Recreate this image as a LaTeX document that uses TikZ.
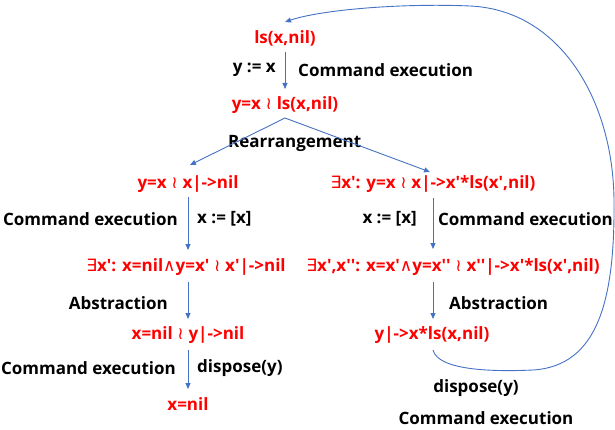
\documentclass[tikz,border=0pt]{standalone}
\usepackage{fontspec}
\setmainfont{Open Sans}
\newfontfamily\symf{DejaVu Sans}
\usetikzlibrary{arrows.meta}
\definecolor{flowblue}{HTML}{4472C4}
\newcommand{\wrs}{{\symf\mdseries\;≀\;}}
\newcommand{\exs}{{\symf\mdseries ∃}}
\newcommand{\wedg}{{\symf\mdseries ∧}}
\newcommand{\q}{\textquotesingle}
\tikzset{
  state/.style={font=\fontsize{17}{20}\selectfont\bfseries, text=red, inner sep=0pt},
  lbl/.style={font=\fontsize{17}{20}\selectfont\bfseries, text=black, inner sep=0pt},
  flow/.style={draw=flowblue, line width=0.9pt, -{Triangle[length=6pt,width=5pt]}},
}
\begin{document}
\begin{tikzpicture}[x=1pt,y=-1pt]
\useasboundingbox (0,0) rectangle (615,430);

% states
\node[state] (n1) at (285,38) {ls(x,nil)};
\node[state] (n2) at (285,105) {y=x\wrs ls(x,nil)};
\node[state] (n3) at (188,184) {y=x\wrs x|->nil};
\node[state] (n4) at (186,267) {\exs x\q: x=nil\wedg y=x\q\wrs x\q|->nil};
\node[state] (n5) at (188,335) {x=nil\wrs y|->nil};
\node[state] (n6) at (188,404) {x=nil};
\node[state] (n7) at (433,184) {\exs x\q: y=x\wrs x|->x\q*ls(x\q,nil)};
\node[state] (n8) at (453,267) {\exs x\q,x\q\q: x=x\q\wedg y=x\q\q\wrs x\q\q|->x\q*ls(x\q,nil)};
\node[state] (n9) at (432,335) {y|->x*ls(x,nil)};

% labels
\node[lbl, anchor=east] (l1) at (276,70) {y := x};
\node[lbl, anchor=west] (l2) at (298,70) {Command execution};
\node[lbl, anchor=west] (l3) at (228,143) {Rearrangement};
\node[lbl, anchor=east] (l4) at (178,219) {Command execution};
\node[lbl, anchor=west] (l5) at (197,219) {x := [x]};
\node[lbl, anchor=east] (l6) at (168,303) {Abstraction};
\node[lbl, anchor=east] (l7) at (176,368) {Command execution};
\node[lbl, anchor=west] (l8) at (197,368) {dispose(y)};
\node[lbl, anchor=east] (l9) at (417,219) {x := [x]};
\node[lbl, anchor=east] (l10) at (613,219) {Command execution};
\node[lbl, anchor=west] (l11) at (449,303) {Abstraction};
\node[lbl] (l12) at (476,388) {dispose(y)};
\node[lbl] (l13) at (486,418) {Command execution};

% connectors
\coordinate (r0) at (285,118);
\coordinate (c0) at (433,350);
\draw[flow] (n1.south |- 0,52) -- (n2.north |- 0,89);
\draw[flow] (r0) -- (190,165);
\draw[flow] (r0) -- (430,172);
\draw[flow] (n3.south |- 0,197) -- (n3.south |- 0,250);
\draw[flow] (n3.south |- 0,282) -- (n3.south |- 0,319);
\draw[flow] (n3.south |- 0,350) -- (n3.south |- 0,389);
\draw[flow] (n7.south |- 0,198) -- (n7.south |- 0,249);
\draw[flow] (n7.south |- 0,282) -- (n7.south |- 0,319);
\draw[flow] (c0)
  .. controls (438,370) and (490,372) .. (533,370)
  .. controls (598,366) and (615,300) .. (614,200)
  .. controls (613,100) and (560,10) .. (470,6)
  .. controls (400,3) and (320,10) .. (285,22);
\end{tikzpicture}
\end{document}
